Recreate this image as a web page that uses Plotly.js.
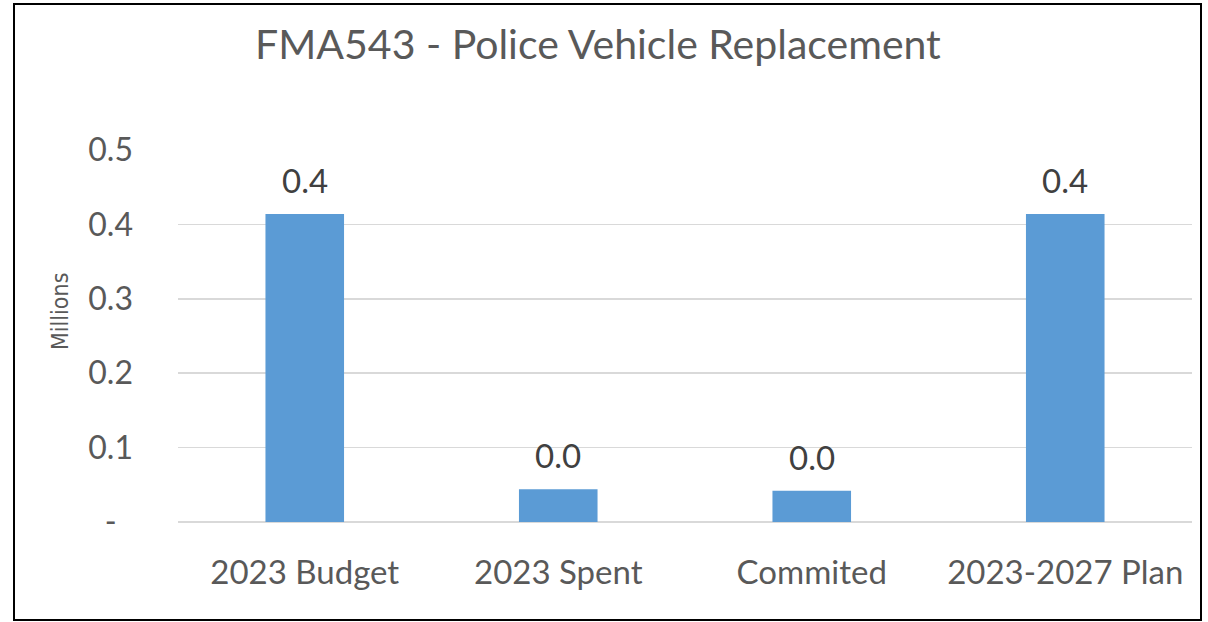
<!DOCTYPE html>
<html>
<head>
<meta charset="utf-8">
<script src="https://cdn.plot.ly/plotly-3.0.1.min.js"></script>
<style>
  html, body { margin: 0; padding: 0; background: #ffffff; }
  #chart { width: 1208px; height: 622px; }
</style>
</head>
<body>
<div id="chart"></div>
<script>
// Data (values in millions)
const categories = ["2023 Budget", "2023 Spent", "Commited", "2023-2027 Plan"];
const values = [0.414, 0.044, 0.042, 0.414];
const labels = ["0.4", "0.0", "0.0", "0.4"];
const yTickVals = [0, 0.1, 0.2, 0.3, 0.4, 0.5];
const yTickText = ["-\u00a0\u00a0", "0.1", "0.2", "0.3", "0.4", "0.5"];
const chartTitle = "FMA543 - Police Vehicle Replacement";
const yTitle = "Millions";

const FONT = "Lato, 'Open Sans', sans-serif";

const trace = {
  type: "bar",
  x: categories,
  y: values,
  marker: { color: "#5b9bd5" },
  hoverinfo: "none"
};

const W = 1208, H = 622;
const m = { l: 178, r: 16, t: 150, b: 100 };
const pw = W - m.l - m.r, ph = H - m.t - m.b;
const px = x => (x - m.l) / pw;
const py = y => (H - m.b - y) / ph;

const annotations = categories.map((c, i) => ({
  x: c, y: values[i], xref: "x", yref: "y",
  text: labels[i], showarrow: false,
  yanchor: "bottom", yshift: 12,
  font: { family: FONT, size: 33, color: "#404040" }
}));

annotations.push({
  xref: "paper", yref: "paper",
  x: px(60), y: py(312),
  xanchor: "center", yanchor: "middle",
  text: yTitle, textangle: -90, showarrow: false,
  font: { family: "'Liberation Sans Narrow', 'DejaVu Sans Condensed', Roboto, sans-serif", size: 23, color: "#595959" }
});

const layout = {
  width: W,
  height: H,
  margin: m,
  paper_bgcolor: "#ffffff",
  plot_bgcolor: "#ffffff",
  showlegend: false,
  bargap: 0.69,
  title: {
    text: chartTitle,
    font: { family: FONT, size: 41, color: "#595959" },
    x: 0.495, xanchor: "center",
    y: 1 - 45 / H, yanchor: "middle"
  },
  xaxis: {
    type: "category",
    tickfont: { family: FONT, size: 33, color: "#595959" },
    ticks: "",
    showgrid: false,
    zeroline: false,
    showline: false,
    ticklabelstandoff: 28
  },
  yaxis: {
    range: [0, 0.5],
    tickvals: yTickVals,
    ticktext: yTickText,
    tickfont: { family: FONT, size: 32, color: "#595959" },
    ticks: "",
    showgrid: true,
    gridcolor: "#d9d9d9",
    gridwidth: 1.5,
    zeroline: true,
    zerolinecolor: "#d9d9d9",
    zerolinewidth: 2,
    showline: false,
    ticklabelstandoff: 44
  },
  annotations: annotations,
  shapes: [
    {
      type: "rect", xref: "paper", yref: "paper",
      x0: px(14), x1: px(1201), y0: py(620), y1: py(4),
      line: { color: "#000000", width: 2 },
      fillcolor: "rgba(0,0,0,0)",
      layer: "below"
    }
  ]
};

Plotly.newPlot("chart", [trace], layout, { staticPlot: true, displayModeBar: false });
</script>
</body>
</html>
